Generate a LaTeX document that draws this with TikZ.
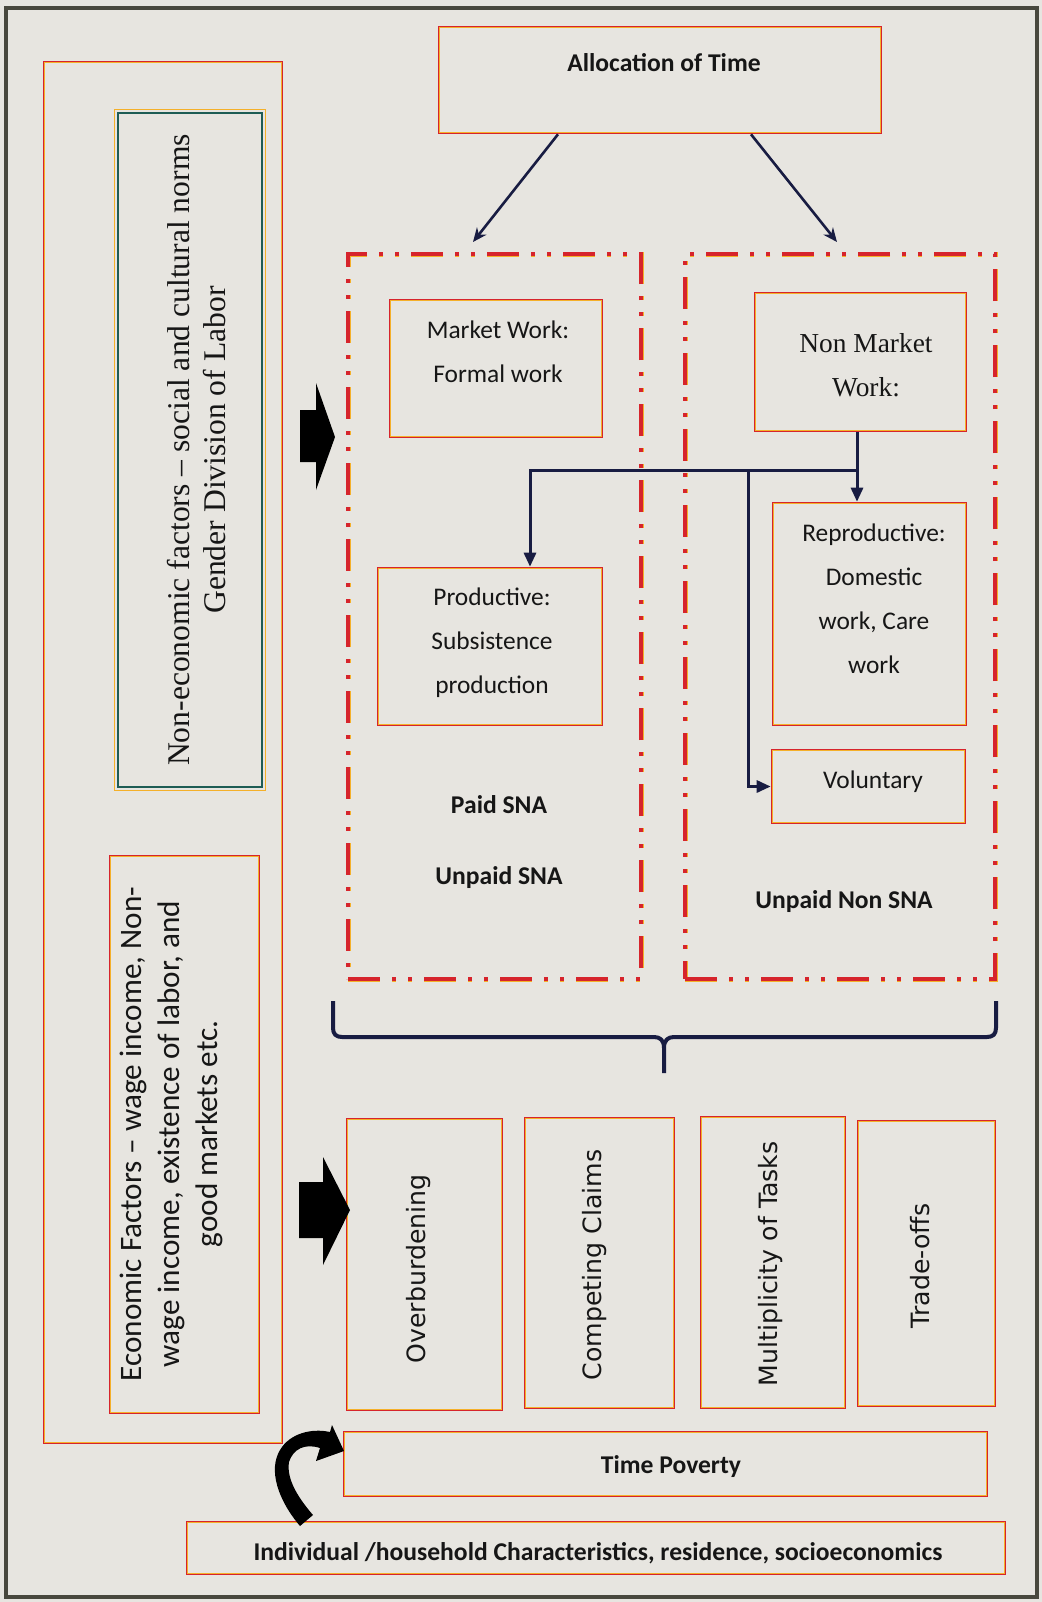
\documentclass[tikz,border=0pt]{standalone}
\usepackage{fontspec}
\setmainfont{Carlito}[Ligatures=TeX]
\newfontfamily\timesf{Liberation Serif}[Ligatures=TeX]
\newfontfamily\verdf{DejaVu Sans}[Ligatures=TeX]
\usetikzlibrary{fit,arrows.meta,calc}
\definecolor{bg}{RGB}{231,229,224}
\definecolor{boxred}{RGB}{214,36,44}
\definecolor{fringe}{RGB}{244,176,42}
\definecolor{boxgreen}{RGB}{30,92,84}
\definecolor{navy}{RGB}{24,28,66}
\definecolor{framec}{RGB}{72,72,62}
\definecolor{ink}{RGB}{22,22,22}
\begin{document}
\begin{tikzpicture}[x=0.5pt,y=-0.5pt,
  rbox/.style={draw=boxred, line width=1.3pt, inner sep=0pt},
  gbox/.style={draw=boxgreen, line width=1.3pt, inner sep=0pt},
  dbox/.style={draw=fringe, double=boxred, double distance=1.8pt, line width=0.35pt,
     dash pattern=on 16pt off 6pt on 2pt off 6pt on 2pt off 6pt, inner sep=0pt},
  inline/.style={draw=fringe, line width=0.5pt},
  txt/.style={align=center, text=ink, inner sep=0pt},
  cal/.style={font=\fontsize{12.7}{22}\selectfont},
  calb/.style={font=\fontsize{12.8}{22}\selectfont\bfseries},
  tms/.style={font=\timesf\fontsize{13.7}{22}\selectfont},
  vrd/.style={font=\verdf\fontsize{12.6}{15}\selectfont},
  conn/.style={draw=navy, line width=1.5pt, -{Triangle[length=7pt,width=6pt]}},
  aconn/.style={draw=navy, line width=1.3pt, -{Stealth[length=7pt,width=6pt]}}
]
\useasboundingbox (0,0) rectangle (1042,1602);
\fill[bg] (0,0) rectangle (1042,1602);
\draw[framec, line width=1.6pt] (6,8) rectangle (1037,1597);

% boxes
\node[rbox, fit={(439,27) (881,133)}] (alloc) {};
\node[rbox, fit={(44,62) (282,1443)}] (left) {};
\node[gbox, fit={(118,113) (262,787)}] (noneco) {};
\node[rbox, fit={(110,856) (259,1413)}] (eco) {};
\node[dbox, fit={(348,254) (641,979)}] (dashL) {};
\node[dbox, fit={(685,254) (995,979)}] (dashR) {};
\node[rbox, fit={(390,300) (602,437)}] (mw) {};
\node[rbox, fit={(755,293) (966,431)}] (nm) {};
\node[rbox, fit={(378,568) (602,725)}] (prod) {};
\node[rbox, fit={(773,503) (966,725)}] (rep) {};
\node[rbox, fit={(772,750) (965,823)}] (vol) {};
\node[rbox, fit={(347,1119) (502,1410)}] (ob) {};
\node[rbox, fit={(525,1118) (674,1408)}] (cc) {};
\node[rbox, fit={(701,1117) (845,1408)}] (mt) {};
\node[rbox, fit={(858,1121) (995,1406)}] (to) {};
\node[rbox, fit={(344,1432) (987,1496)}] (tp) {};
\node[rbox, fit={(187,1522) (1005,1574)}] (ind) {};

\foreach \n in {alloc,left,eco,mw,nm,prod,rep,vol,ob,cc,mt,to,tp,ind}
  \draw[inline] ([shift={(1.8,1.8)}]\n.north west) rectangle ([shift={(-1.8,-1.8)}]\n.south east);
\draw[fringe, line width=0.5pt] ([shift={(-1.8,-1.8)}]noneco.north west) rectangle ([shift={(1.8,1.8)}]noneco.south east);

% texts
\node[txt, calb] (allocT) at (664,63) {Allocation of Time};
\node[txt, rotate=90, font=\timesf\fontsize{15.8}{18}\selectfont] (nonecoT) at (197,450)
  {Non-economic factors – social and cultural norms\\Gender Division of Labor};
\node[txt, rotate=90, font=\fontsize{15.6}{19}\selectfont] (ecoT) at (171,1134)
  {Economic Factors – wage income, Non-\\wage income, existence of labor, and\\good markets etc.};
\node[txt, cal] (mwT) at (498,352) {Market Work:\\Formal work};
\node[txt, tms] (nmT) at (866,365) {Non Market\\Work:};
\node[txt, cal] (prodT) at (492,643) {Productive:\\Subsistence\\production};
\node[txt, cal] (repT) at (874,599) {Reproductive:\\Domestic\\work, Care\\work};
\node[txt, cal] (volT) at (873,782) {Voluntary};
\node[txt, calb] (paid) at (499,805) {Paid SNA};
\node[txt, calb] (unpaid) at (499,878) {Unpaid SNA};
\node[txt, calb] (unpaidN) at (844,902) {Unpaid Non SNA};
\node[txt, vrd, rotate=90] (obT) at (419,1269) {Overburdening};
\node[txt, vrd, rotate=90] (ccT) at (595,1265) {Competing Claims};
\node[txt, vrd, rotate=90] (mtT) at (771,1264) {Multiplicity of Tasks};
\node[txt, vrd, rotate=90] (toT) at (920,1266) {Trade-offs};
\node[txt, calb] (tpT) at (671,1467) {Time Poverty};
\node[txt, calb] (indT) at (598,1553) {Individual /household Characteristics, residence, socioeconomics};

% allocation arrows
\coordinate (la) at (473,242);
\coordinate (ra) at (837,242);
\draw[aconn] ($(alloc.south)+(-102,0)$) -- (la);
\draw[aconn] ($(alloc.south)+(91,0)$) -- (ra);

% non market connectors
\coordinate (j1) at (857,470);
\coordinate (j2) at (530,470);
\coordinate (j3) at (748,470);
\draw[conn] (nm.south -| j1) -- (rep.north -| j1);
\draw[conn] (j1) -- (j2) -- (j2 |- prod.north);
\draw[conn] (j3) |- (vol.west);

% block arrows
\fill[black] (300,410) -- (316,410) -- (316,383) -- (335,437) -- (316,490) -- (316,462) -- (300,462) -- cycle;
\fill[black] (299,1182) -- (323,1182) -- (323,1157) -- (350,1210) -- (323,1265) -- (323,1238) -- (299,1238) -- cycle;

% brace
\draw[navy, line width=2pt, line join=round]
  (333,1001) -- (333,1028) .. controls (333,1034) and (336,1037) .. (342,1037)
  -- (654,1037) .. controls (660,1037) and (664,1040) .. (664,1048) -- (664,1073)
  (664,1048) .. controls (664,1040) and (668,1037) .. (674,1037)
  -- (987,1037) .. controls (993,1037) and (996,1034) .. (996,1028) -- (996,1001);

% curved arrow
\fill[black] (300,1526) .. controls (278,1500) and (268,1470) .. (280,1450)
  .. controls (290,1433) and (312,1428) .. (330,1432) -- (332,1425) -- (344,1451)
  -- (316,1461) -- (320,1448) .. controls (305,1443) and (293,1449) .. (289,1462)
  .. controls (286,1480) and (300,1500) .. (313,1515) -- cycle;
\end{tikzpicture}
\end{document}
